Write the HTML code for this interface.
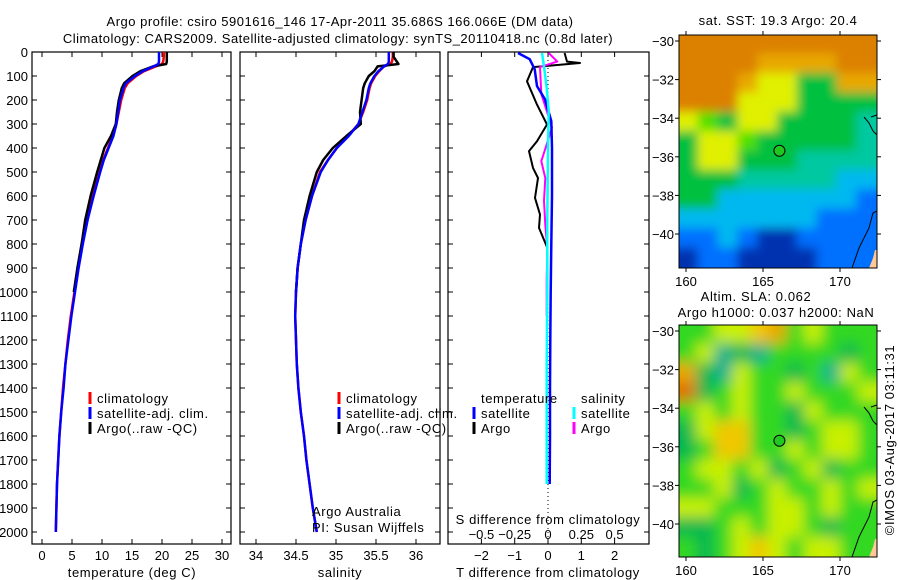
<!DOCTYPE html>
<html><head><meta charset="utf-8">
<style>
html,body{margin:0;padding:0;background:#fff;}
svg{display:block;font-family:"Liberation Sans",sans-serif;}
text{font-size:13px;fill:#000;}
.ls{letter-spacing:0.6px;}
</style></head>
<body>
<svg id="fig" width="900" height="580" viewBox="0 0 900 580" xmlns="http://www.w3.org/2000/svg">
<defs>
<filter id="blur1" x="-0.1" y="-0.1" width="1.2" height="1.2"><feGaussianBlur stdDeviation="7"/></filter>
<filter id="blur2" x="-0.1" y="-0.1" width="1.2" height="1.2"><feGaussianBlur stdDeviation="5"/></filter>
<clipPath id="clipM1"><rect x="679" y="35" width="198" height="233"/></clipPath>
<clipPath id="clipM2"><rect x="679" y="325" width="198" height="232"/></clipPath>
</defs>
<text x="340" y="26" text-anchor="middle" font-size="15.5" style="letter-spacing:0.5px">Argo profile: csiro 5901616_146 17-Apr-2011 35.686S 166.066E (DM data)</text>
<text x="338" y="43" text-anchor="middle" font-size="15.5" style="letter-spacing:0.5px">Climatology: CARS2009. Satellite-adjusted climatology: synTS_20110418.nc (0.8d later)</text>
<g id="plots"></g>
</svg>
<script>
const depths=[0,20,40,50,60,80,100,130,150,200,250,300,350,400,450,500,600,700,800,900,1000,1100,1200,1300,1400,1500,1600,1700,1800,1900,2000];
const tClim=[20.3,20.3,20.2,20.0,19.0,17.0,15.7,14.3,13.8,13.2,12.8,12.4,11.8,11.0,10.2,9.6,8.5,7.5,6.7,6.0,5.4,4.8,4.3,3.9,3.5,3.2,2.9,2.7,2.5,2.4,2.3];
const tSat=[19.5,19.5,19.5,19.4,18.6,16.8,15.5,14.0,13.6,13.0,12.7,12.4,11.9,11.1,10.3,9.7,8.6,7.6,6.8,6.1,5.5,4.9,4.4,3.9,3.6,3.2,2.9,2.7,2.5,2.4,2.3];
const argoDepths=[0,20,40,50,60,80,100,130,150,200,250,300,350,400,450,500,600,700,800,900,1000];
const tArgo=[20.8,20.8,20.8,20.7,18.5,16.4,15.1,13.7,13.3,12.8,12.5,12.3,11.5,10.4,9.8,9.2,8.1,7.2,6.6,5.9,5.3];
const sClim=[35.71,35.71,35.70,35.68,35.60,35.54,35.49,35.44,35.42,35.39,35.34,35.28,35.15,35.01,34.90,34.80,34.70,34.62,34.56,34.52,34.50,34.49,34.50,34.51,34.53,34.56,34.60,34.63,34.67,34.71,34.76];
const sSat=[35.66,35.66,35.66,35.65,35.60,35.53,35.48,35.43,35.41,35.38,35.33,35.28,35.16,35.01,34.90,34.81,34.70,34.62,34.56,34.52,34.50,34.49,34.50,34.51,34.53,34.56,34.60,34.63,34.67,34.71,34.76];
const sArgo=[35.72,35.72,35.76,35.78,35.52,35.48,35.41,35.36,35.34,35.32,35.30,35.31,35.13,34.96,34.84,34.76,34.67,34.60,34.56,34.52,34.50];
const dT_argo_d=[4,40,46,63,122,219,302,372,413,483,525,608,677,733,816];
const dT_argo=[0.5,0.57,0.96,-0.45,-0.63,-0.33,-0.03,-0.33,-0.57,-0.45,-0.3,-0.39,-0.24,-0.27,-0.02];
const dT_sat_d=[4,30,72,142,197,288,400,600,800,1000,1200,1400,1600,1800];
const dT_sat=[-0.9,-0.55,-0.4,-0.33,-0.09,0.1,0.12,0.12,0.1,0.08,0.07,0.06,0.06,0.05];
const dS_argo_d=[4,40,63,175,245,315,385,455,525,620,720,816,950,1100];
const dS_argo=[0.005,0.07,-0.06,-0.05,-0.01,0.03,-0.01,-0.05,-0.02,-0.03,-0.02,-0.005,-0.01,-0.01];
const dS_sat_d=[4,60,150,245,400,700,1000,1300,1600,1800];
const dS_sat=[-0.045,-0.03,-0.01,0.005,0.0,-0.005,-0.005,-0.01,-0.01,-0.01];
const depthTicks=[0,100,200,300,400,500,600,700,800,900,1000,1100,1200,1300,1400,1500,1600,1700,1800,1900,2000];
const tTicks=[0,5,10,15,20,25,30];
const sTicks=[34,34.5,35,35.5,36];
const dTTicks=[-2,-1,0,1,2];
const dSTicks=[-0.5,-0.25,0,0.25,0.5];
const dSTickLabels=["\u22120.5","\u22120.25","0","0.25","0.5"];
const lonTicks=[160,165,170];
const latTicks=[-30,-32,-34,-36,-38,-40];

const NS="http://www.w3.org/2000/svg";
const G=document.getElementById('plots');
function el(tag,attrs,parent){const e=document.createElementNS(NS,tag);for(const k in attrs)e.setAttribute(k,attrs[k]);(parent||G).appendChild(e);return e;}
const TOP=52,BOT=544,FS='14.5';
const yD=d=>TOP+d*0.24;
const xT=v=>42+v*6;
const xS=v=>256+(v-34)*80;
const xDT=v=>548+v*33.3;
const xDS=v=>548+v*133.2;
function line(xs,ds,fx,color,w,name){
  const pts=xs.map((v,i)=>fx(v).toFixed(1)+','+yD(ds[i]).toFixed(1)).join(' ');
  const p=el('polyline',{points:pts,fill:'none',stroke:color,'stroke-width':w,'stroke-linejoin':'round'});
  
  
}
function panel(x0,x1,name){
  const r=el('rect',{x:x0,y:TOP,width:x1-x0,height:BOT-TOP,fill:'none',stroke:'#000','stroke-width':1.2});
  
  
  depthTicks.forEach(d=>{el('line',{x1:x0,x2:x0+5,y1:yD(d),y2:yD(d),stroke:'#000'});el('line',{x1:x1,x2:x1-5,y1:yD(d),y2:yD(d),stroke:'#000'});});
}
function xticks(vals,labels,fx,ylab,name){
  vals.forEach((v,i)=>{const x=fx(v);
    el('line',{x1:x,x2:x,y1:BOT,y2:BOT-5,stroke:'#000'});
    el('line',{x1:x,x2:x,y1:TOP,y2:TOP+5,stroke:'#000'});
    const t=el('text',{x:x,y:ylab,'text-anchor':'middle','font-size':FS});t.textContent=labels[i];
    
    
  });
}
// Panel 1
panel(32,231,'temperature-panel');
depthTicks.forEach(d=>{const t=el('text',{x:28,y:yD(d)+5,'text-anchor':'end','font-size':FS});t.textContent=d;
  
  });
xticks(tTicks,tTicks.map(String),xT,560,'temperature-tick-label');
let t=el('text',{x:132,y:577,'text-anchor':'middle','font-size':FS,class:'ls'});t.textContent='temperature (deg C)';


line(tClim,depths,xT,'#f00',2.5,'temperature-climatology-line');
line(tArgo,argoDepths,xT,'#000',2.5,'temperature-argo-line');
line(tSat,depths,xT,'#00f',2.5,'temperature-satellite-line');
// Panel 2
panel(240,440,'salinity-panel');
xticks(sTicks,sTicks.map(String),xS,560,'salinity-tick-label');
t=el('text',{x:340,y:577,'text-anchor':'middle','font-size':FS,class:'ls'});t.textContent='salinity';


line(sClim,depths,xS,'#f00',2.5,'salinity-climatology-line');
line(sArgo,argoDepths,xS,'#000',2.5,'salinity-argo-line');
line(sSat,depths,xS,'#00f',2.5,'salinity-satellite-line');
// legends
function legend(x,items,name){items.forEach((it,i)=>{const y=398+i*15;
  el('line',{x1:x,x2:x,y1:y-6,y2:y+6,stroke:it[1],'stroke-width':3});
  const tt=el('text',{x:x+7,y:y+5,'font-size':FS,class:'ls'});tt.textContent=it[0];
  
  });}
const legItems=[['climatology','#f00'],['satellite-adj. clim.','#00f'],['Argo(..raw -QC)','#000']];
legend(90,legItems,'legend-entry');
legend(339,legItems,'legend-entry');
t=el('text',{x:312,y:516,'font-size':FS,class:'ls'});t.textContent='Argo Australia';

t=el('text',{x:312,y:532,'font-size':FS,class:'ls'});t.textContent='PI: Susan Wijffels';

// Panel 3
panel(448,649,'difference-panel');
el('line',{x1:548,x2:548,y1:TOP,y2:BOT,stroke:'#000','stroke-dasharray':'1,3'});
xticks(dTTicks,dTTicks.map(v=>v<0?'\u2212'+(-v):String(v)),xDT,560,'t-diff-tick-label');
dSTicks.forEach((v,i)=>{const tt=el('text',{x:xDS(v),y:539,'text-anchor':'middle','font-size':FS});tt.textContent=dSTickLabels[i];
  });
t=el('text',{x:548,y:524,'text-anchor':'middle','font-size':FS,class:'ls'});t.textContent='S difference from climatology';

t=el('text',{x:548,y:577,'text-anchor':'middle','font-size':FS,class:'ls'});t.textContent='T difference from climatology';

line(dT_argo,dT_argo_d,xDT,'#000',2,'t-diff-argo-line');
line(dS_argo,dS_argo_d,xDS,'#f0f',2,'s-diff-argo-line');
line(dT_sat,dT_sat_d,xDT,'#00f',2.5,'t-diff-satellite-line');
line(dS_sat,dS_sat_d,xDS,'#0ff',2.5,'s-diff-satellite-line');
[['temperature',481,398,null],['satellite',481,413,'#00f'],['Argo',481,428,'#000'],['salinity',581,398,null],['satellite',581,413,'#0ff'],['Argo',581,428,'#f0f']].forEach(a=>{
  if(a[3]){el('line',{x1:a[1]-7,x2:a[1]-7,y1:a[2]-6,y2:a[2]+6,stroke:a[3],'stroke-width':3});}
  const tt=el('text',{x:a[1],y:a[2]+5,'font-size':FS,class:'ls'});tt.textContent=a[0];
  
});
// Maps
const C={O:'#dc8000',o:'#e8a800',Y:'#f0c800',y:'#e0f000',L:'#50e000',G:'#00c040',T:'#00c8a0',C:'#00b8f0',B:'#0070ff',D:'#0030b0',g:'#30d820',h:'#00b850',a:'#c8f000',t:'#00b090',r:'#e07000'};
const sstGrid=["OOOOOOOOOO","OOOOooooOO","OOOoyyGGoo","OOOyyyGGGG","yLGyyGGGGT","GyyLGGGGGT","GyyGGGTTTT","GGGTTTTTCC","GGCCCCCCCB","CCCCCCCBBB","BBCBDDBBBB","DBBDDDDBBB"];
const slaGrid=["ggaaYogaggg","gathtgggghg","ohtagghgtag","rhgaggaggga","gagagghaggg","haYYgghgaag","hgYYggagaag","gaagahgahgg","ggahgaggaga","aagggaagagg","hhgagaaghgg","ghgaYagaagg"];
function map(grid,x0,y0,w,h,clip,filt,name){
  const g=el('g',{'clip-path':'url(#'+clip+')'});
  
  
  const gi=el('g',{filter:'url(#'+filt+')'},g);
  const rows=grid.length,cols=grid[0].length,cw=w/cols,ch=h/rows;
  grid.forEach((row,r)=>[...row].forEach((c,k)=>{
    const ex=(k===0?-15:0), ey=(r===0?-15:0), ew=(k===cols-1?15:0), eh=(r===rows-1?15:0);
    el('rect',{x:x0+k*cw-1+ex,y:y0+r*ch-1+ey,width:cw+2-ex+ew,height:ch+2-ey+eh,fill:C[c]},gi);}));
  el('path',{d:`M${x0+w-8} ${y0+h} L${x0+w-4} ${y0+h-10} L${x0+w-2} ${y0+h-18} L${x0+w} ${y0+h-18} L${x0+w} ${y0+h} Z`,fill:'#ffc896'},g);
  el('path',{d:`M${x0+w-25} ${y0+h} L${x0+w-18} ${y0+h-20} L${x0+w-8} ${y0+h-40} L${x0+w-4} ${y0+h-55} L${x0+w} ${y0+h-57}`,fill:'none',stroke:'#000','stroke-width':1},g);
  el('path',{d:`M${x0+w-13} ${y0+82} L${x0+w-8} ${y0+88} L${x0+w-4} ${y0+96} L${x0+w} ${y0+100} M${x0+w-6} ${y0+82} L${x0+w} ${y0+80}`,fill:'none',stroke:'#000','stroke-width':1},g);
}
function mapAxes(x0,y0,w,h,lat0y,name){
  const r=el('rect',{x:x0,y:y0,width:w,height:h,fill:'none',stroke:'#000','stroke-width':1});
  
  const xL=v=>686+(v-160)*15.4, yL=v=>lat0y+(-30-v)*19.3;
  lonTicks.forEach(v=>{el('line',{x1:xL(v),x2:xL(v),y1:y0,y2:y0-4,stroke:'#000'});el('line',{x1:xL(v),x2:xL(v),y1:y0+h,y2:y0+h+4,stroke:'#000'});
    const tt=el('text',{x:xL(v),y:y0+h+18,'text-anchor':'middle','font-size':FS});tt.textContent=v;
    });
  latTicks.forEach(v=>{el('line',{x1:x0,x2:x0-4,y1:yL(v),y2:yL(v),stroke:'#000'});el('line',{x1:x0+w,x2:x0+w+4,y1:yL(v),y2:yL(v),stroke:'#000'});
    const tt=el('text',{x:x0-5,y:yL(v)+5,'text-anchor':'end','font-size':FS});tt.textContent=v<0?'\u2212'+(-v):v;
    });
  const c=el('circle',{cx:xL(166.066),cy:yL(-35.686),r:5.5,fill:'#20c820',stroke:'#000','stroke-width':1});
  
}
map(sstGrid,679,35,198,233,'clipM1','blur2','sst-map');
mapAxes(679,35,198,233,41,'sst-map-frame');
map(slaGrid,679,325,198,232,'clipM2','blur1','sla-map');
mapAxes(679,325,198,232,331,'sla-map-frame');
t=el('text',{x:778,y:25,'text-anchor':'middle','font-size':FS,class:'ls'});t.textContent='sat. SST: 19.3 Argo: 20.4';

t=el('text',{x:756,y:301,'text-anchor':'middle','font-size':FS,class:'ls'});t.textContent='Altim. SLA: 0.062';

t=el('text',{x:776,y:317,'text-anchor':'middle','font-size':FS,class:'ls'});t.textContent='Argo h1000: 0.037 h2000: NaN';

t=el('text',{x:894,y:440,'text-anchor':'middle','font-size':FS,class:'ls',transform:'rotate(-90 894 440)'});t.textContent='\u00A9IMOS 03-Aug-2017 03:11:31';

</script>
</body></html>
